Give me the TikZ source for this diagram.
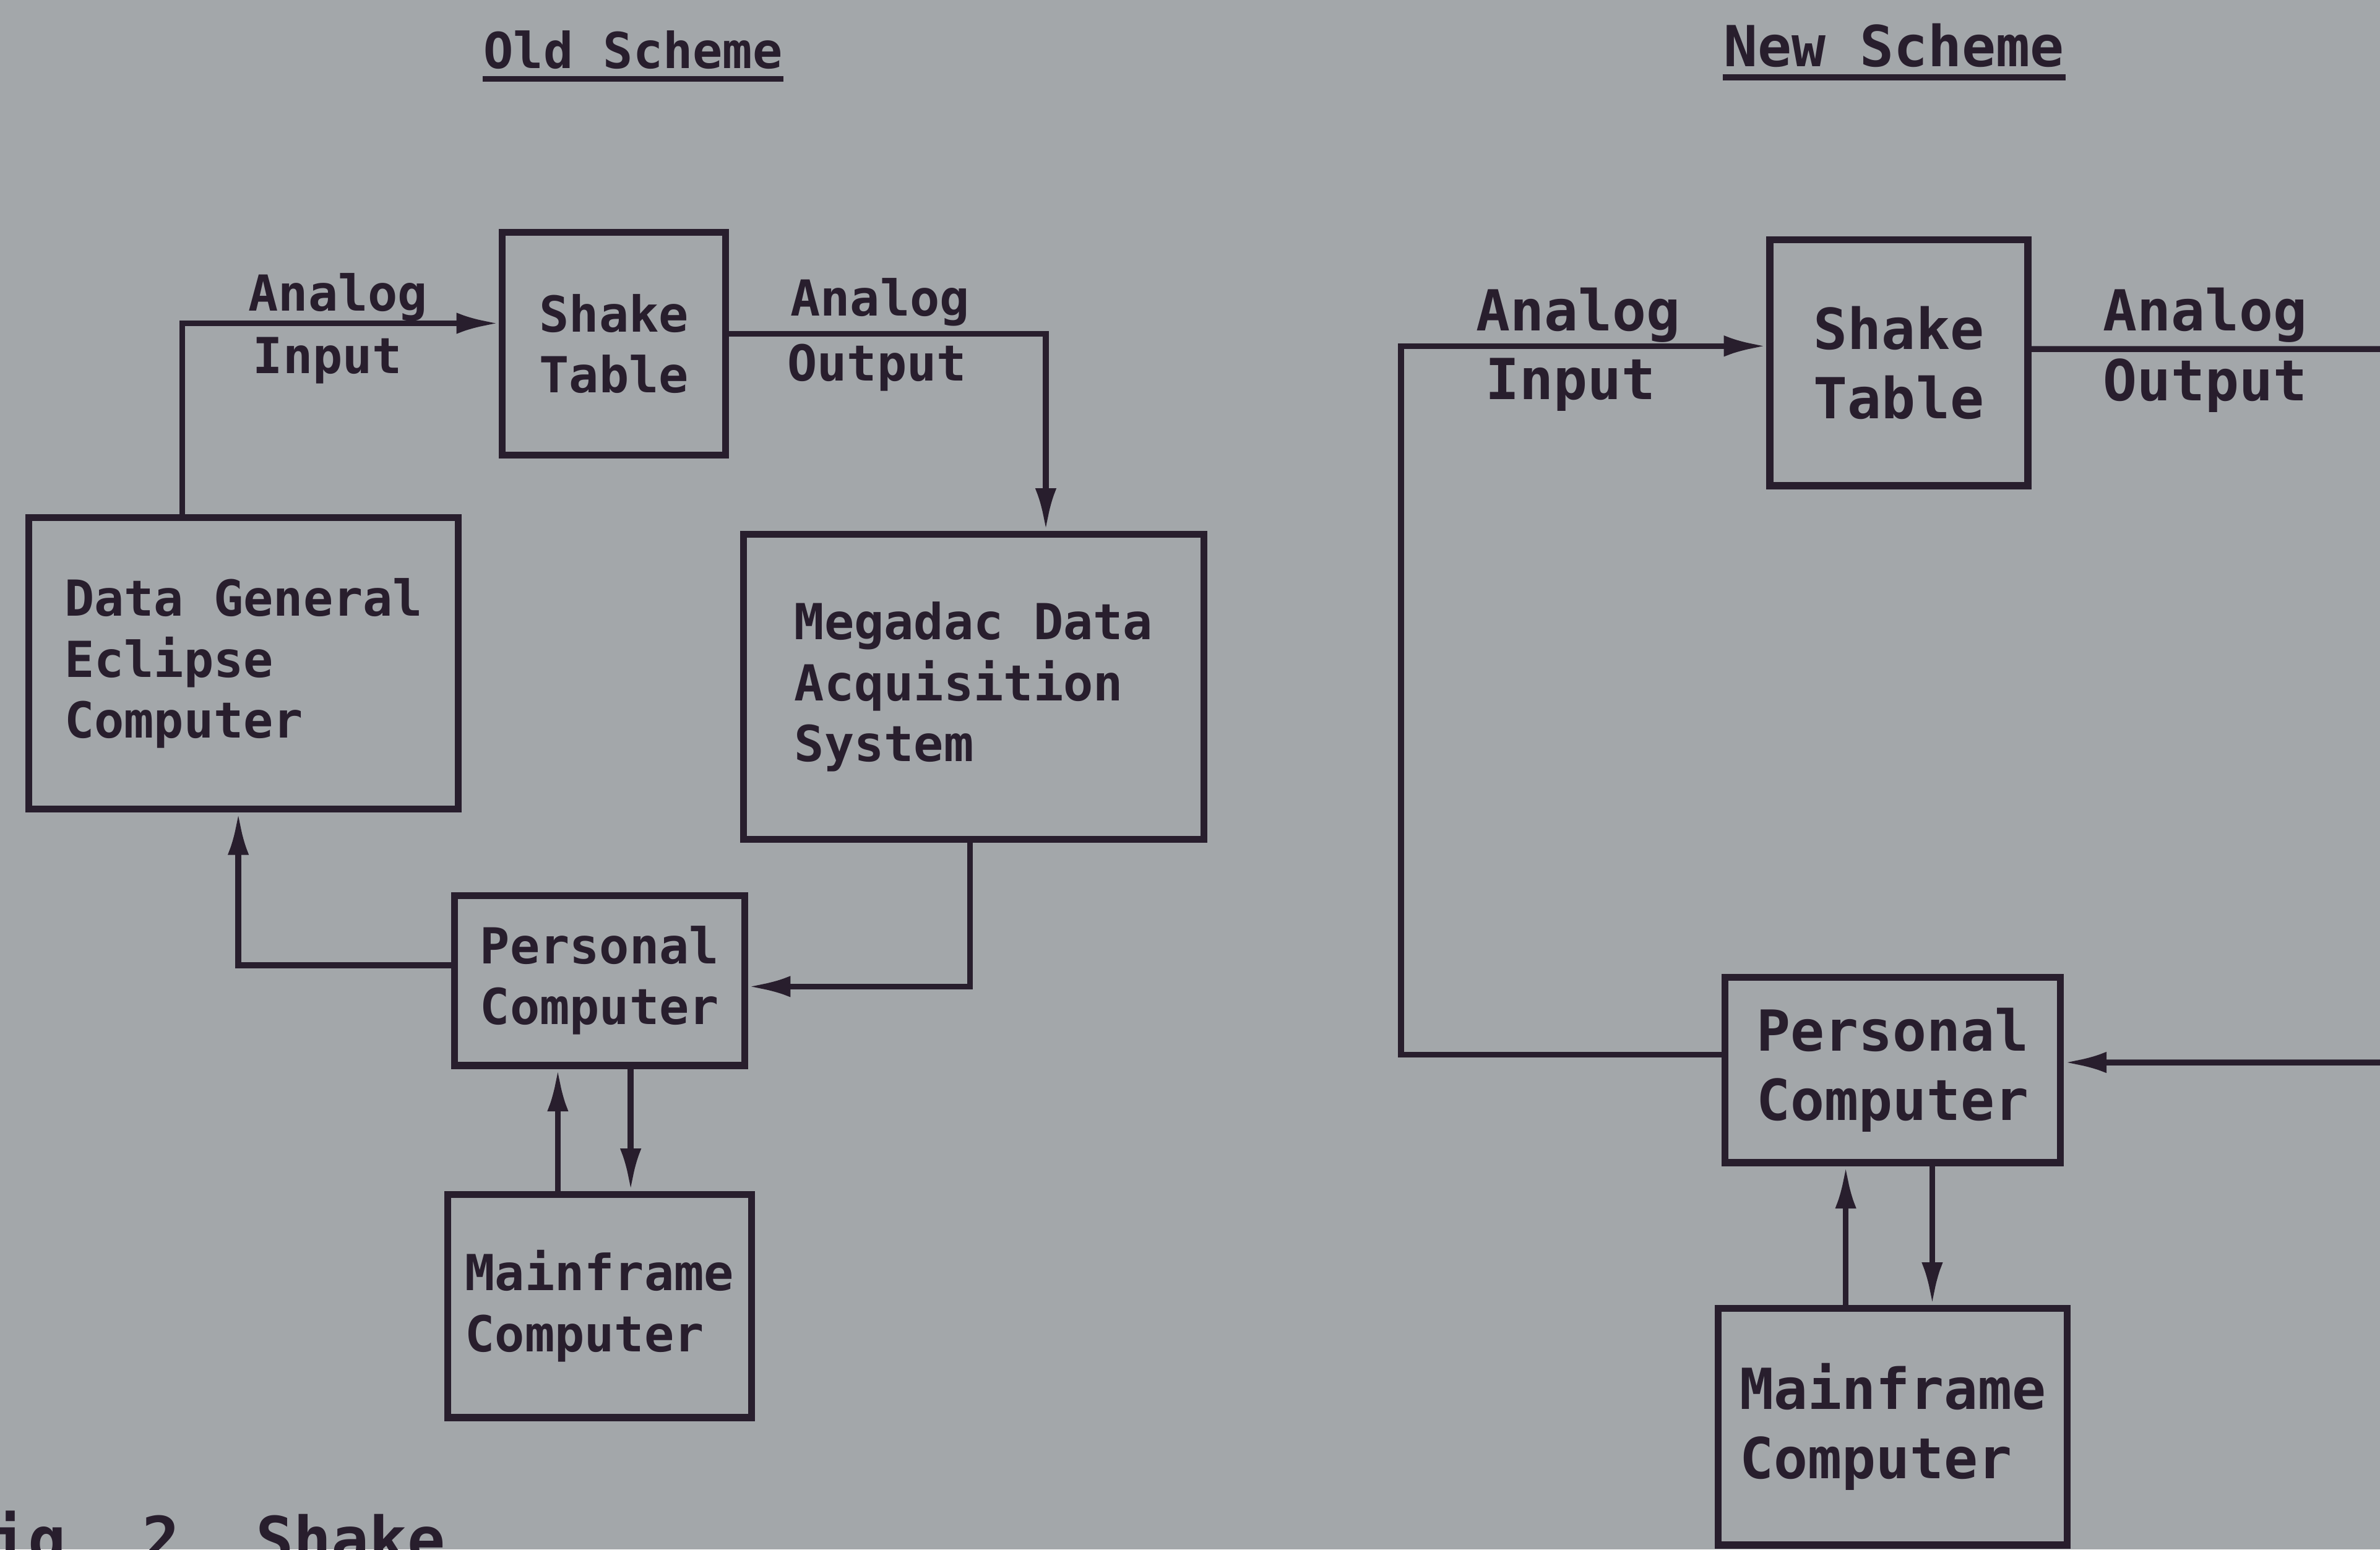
\documentclass[tikz,border=0pt]{standalone}
\usepackage{fontspec}
\newfontfamily\plotfont{DejaVu Sans Mono}
\usetikzlibrary{arrows.meta}
\definecolor{paper}{RGB}{163,167,170}
\definecolor{ink}{RGB}{40,30,45}

\tikzset{
  oldtxt/.style={font=\plotfont\bfseries\fontsize{9.3}{11.4}\selectfont},
  newtxt/.style={font=\plotfont\bfseries\fontsize{10.6}{13}\selectfont},
  captxt/.style={font=\plotfont\bfseries\fontsize{11.8}{14}\selectfont},
  box/.style={draw=ink, line width=1.3pt, rectangle, align=left, inner sep=2pt, text=ink},
  lbl/.style={anchor=base west, inner sep=0pt, text=ink},
  conn/.style={draw=ink, line width=1.1pt},
  arr/.style={conn, -{Latex[length=2.8mm,width=1.4mm]}}
}

\begin{document}
\begin{tikzpicture}
\useasboundingbox (0,0) rectangle (15.68,-10.21);
\fill[paper] (0,0) rectangle (15.68,-10.21);

\node[oldtxt, lbl] (oldt) at (3.18,-0.45) {Old Scheme};
\draw[conn] ([yshift=-0.7mm]oldt.base west) -- ([yshift=-0.7mm]oldt.base east);

\node[box, oldtxt, minimum width=1.47cm, minimum height=1.47cm] (st1) at (4.045,-2.265) {Shake\\Table};
\node[box, oldtxt, minimum width=2.83cm, minimum height=1.92cm] (dg) at (1.605,-4.37) {Data General\\Eclipse\\Computer};
\node[box, oldtxt, minimum width=3.03cm, minimum height=2.01cm] (mg) at (6.415,-4.525) {Megadac Data\\Acquisition\\System};
\node[box, oldtxt, minimum width=1.91cm, minimum height=1.12cm] (pc1) at (3.95,-6.46) {Personal\\Computer};
\node[box, oldtxt, minimum width=2.00cm, minimum height=1.47cm] (mf1) at (3.95,-8.605) {Mainframe\\Computer};

\node[oldtxt, lbl] (ain1) at (1.63,-2.05) {Analog};
\node[oldtxt, lbl] (inp1) at (1.66,-2.46) {Input};
\node[oldtxt, lbl] (aout1) at (5.20,-2.08) {Analog};
\node[oldtxt, lbl] (outp1) at (5.18,-2.51) {Output};

\draw[arr] ([xshift=-4.05mm]dg.north) |- ([yshift=1.35mm]st1.west);
\draw[arr] ([yshift=0.65mm]st1.east) -| ([xshift=4.75mm]mg.north);
\draw[arr] ([xshift=-0.25mm]mg.south) |- ([yshift=-0.4mm]pc1.east);
\draw[arr] ([yshift=1mm]pc1.west) -| ([xshift=-0.35mm]dg.south);
\draw[arr] ([xshift=-2.75mm]mf1.north) -- ([xshift=-2.75mm]pc1.south);
\draw[arr] ([xshift=2.05mm]pc1.south) -- ([xshift=2.05mm]mf1.north);

\node[newtxt, lbl] (newt) at (11.35,-0.44) {New Scheme};
\draw[conn] ([yshift=-0.7mm]newt.base west) -- ([yshift=-0.7mm]newt.base east);

\node[box, newtxt, minimum width=1.70cm, minimum height=1.62cm] (st2) at (12.51,-2.39) {Shake\\Table};
\node[box, newtxt, minimum width=2.21cm, minimum height=1.22cm] (pc2) at (12.47,-7.05) {Personal\\Computer};
\node[box, newtxt, minimum width=2.30cm, minimum height=1.56cm] (mf2) at (12.47,-9.40) {Mainframe\\Computer};

\node[newtxt, lbl] (ain2) at (9.72,-2.18) {Analog};
\node[newtxt, lbl] (inp2) at (9.78,-2.63) {Input};
\node[newtxt, lbl] (aout2) at (13.85,-2.18) {Analog};
\node[newtxt, lbl] (outp2) at (13.85,-2.64) {Output};

\coordinate (lft) at (9.23,-5);
\coordinate (outr) at (16.2,-2.30);
\coordinate (inr) at (16.2,-7.00);

\draw[arr] ([yshift=1mm]pc2.west) -| (lft) |- ([yshift=1.1mm]st2.west);
\draw[conn] ([yshift=0.9mm]st2.east) -- (outr);
\draw[arr] (inr) -- ([yshift=0.5mm]pc2.east);
\draw[arr] ([xshift=-3.1mm]mf2.north) -- ([xshift=-3.1mm]pc2.south);
\draw[arr] ([xshift=2.6mm]pc2.south) -- ([xshift=2.6mm]mf2.north);

\node[captxt, lbl] (cap) at (-0.32,-10.29) {Fig.\ 2\ \ Shake};

\end{tikzpicture}
\end{document}
